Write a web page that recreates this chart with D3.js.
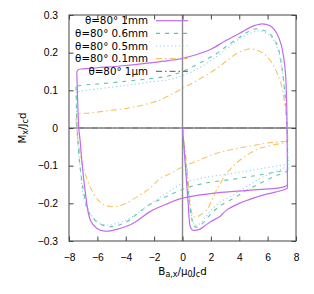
<!DOCTYPE html>
<html>
<head>
<meta charset="utf-8">
<script src="https://cdn.jsdelivr.net/npm/d3@7"></script>
<style>
  body { margin: 0; background: #fff; }
  svg { display: block; font-family: "DejaVu Sans", sans-serif; }
</style>
</head>
<body>
<svg id="chart"></svg>
<script>
var width = 314, height = 294;
var margin = { top: 15, right: 18, bottom: 53, left: 69 };
var innerWidth = width - margin.left - margin.right;
var innerHeight = height - margin.top - margin.bottom;

var xTicks = [-8, -6, -4, -2, 0, 2, 4, 6, 8];
var yTicks = [-0.3, -0.2, -0.1, 0, 0.1, 0.2, 0.3];
var labels = ["θ=80° 1mm", "θ=80° 0.6mm", "θ=80° 0.5mm", "θ=80° 0.1mm", "θ=80° 1μm"];

// [B, M] points: virgin curve, then the two branches of the loop
var mm1Virgin = [[0,0],[0.2,-0.1],[0.4,-0.2],[0.55,-0.262],[0.7,-0.271],[1.2,-0.269],[1.6,-0.259],[2.0,-0.248],[2.64,-0.235],[3.1,-0.218],[4.0,-0.2],[5.0,-0.186],[6.0,-0.175],[7.0,-0.166],[7.4,-0.16]];
var mm1Upper = [[7.4,-0.16],[7.38,-0.05],[7.34,0.07],[7.25,0.15],[7.1,0.195],[6.95,0.222],[6.65,0.251],[6.3,0.268],[5.9,0.275],[5.5,0.276],[5.0,0.271],[4.0,0.251],[3.0,0.231],[2.0,0.209],[1.0,0.195],[0,0.185],[-1,0.179],[-2.3,0.173],[-4,0.166],[-6,0.16],[-7,0.157],[-7.35,0.155],[-7.45,0.148]];
var mm1Lower = [[-7.45,0.148],[-7.38,0.06],[-7.3,-0.005],[-7.22,-0.032],[-7.1,-0.085],[-6.87,-0.165],[-6.5,-0.244],[-6.05,-0.266],[-5.46,-0.274],[-4.64,-0.269],[-3.47,-0.253],[-2.29,-0.222],[-1,-0.2],[0,-0.186],[2.41,-0.172],[4.76,-0.165],[7.1,-0.157],[7.4,-0.151]];

var mm06Virgin = [[0,0],[0.3,-0.12],[0.6,-0.23],[0.85,-0.262],[1.1,-0.262],[1.5,-0.25],[1.94,-0.231],[2.6,-0.208],[3.58,-0.187],[4.5,-0.166],[5.46,-0.147],[6.4,-0.13],[7.4,-0.115]];
var mm06Upper = [[7.42,-0.112],[7.38,-0.02],[7.3,0.05],[7.22,0.09],[7.0,0.163],[6.8,0.205],[6.5,0.234],[6.1,0.252],[5.8,0.258],[5.4,0.262],[5.1,0.263],[4.6,0.255],[4.05,0.242],[3.2,0.22],[2.41,0.198],[1.2,0.172],[0,0.15],[-1,0.138],[-2.3,0.131],[-4,0.124],[-6,0.117],[-7.2,0.113],[-7.5,0.11]];
var mm06Lower = [[-7.5,0.11],[-7.45,0.02],[-7.35,-0.05],[-7.2,-0.11],[-6.99,-0.165],[-6.64,-0.222],[-6.05,-0.249],[-5.5,-0.26],[-5.11,-0.262],[-4.5,-0.258],[-3.93,-0.249],[-3.2,-0.228],[-2.3,-0.203],[-1.2,-0.183],[0,-0.163],[1.5,-0.147],[3.58,-0.136],[5.5,-0.124],[7.42,-0.111]];

var mm05Virgin = [[0,0],[0.3,-0.12],[0.6,-0.225],[0.88,-0.258],[1.2,-0.255],[1.5,-0.243],[1.94,-0.222],[2.6,-0.198],[3.58,-0.178],[4.5,-0.156],[5.46,-0.134],[6.4,-0.118],[7.4,-0.102]];
var mm05Upper = [[7.44,-0.098],[7.4,-0.02],[7.3,0.05],[7.1,0.136],[6.9,0.18],[6.64,0.216],[6.3,0.24],[5.93,0.251],[5.5,0.257],[5.23,0.258],[4.7,0.25],[4.05,0.238],[3.2,0.213],[2.41,0.19],[1.2,0.16],[0,0.139],[-1,0.128],[-2.3,0.122],[-4,0.113],[-6,0.104],[-7.2,0.098],[-7.5,0.096]];
var mm05Lower = [[-7.5,0.096],[-7.45,0.02],[-7.35,-0.05],[-7.2,-0.11],[-7.0,-0.178],[-6.5,-0.227],[-6.0,-0.248],[-5.34,-0.258],[-4.7,-0.254],[-3.93,-0.244],[-3.0,-0.222],[-2.06,-0.196],[-1,-0.17],[0,-0.147],[1.5,-0.132],[3.58,-0.12],[5.5,-0.108],[7.44,-0.096]];

var mm01Virgin = [[0,0],[0.3,-0.1],[0.55,-0.2],[0.76,-0.235],[1.0,-0.236],[1.3,-0.23],[1.7,-0.218],[2.0,-0.198],[2.29,-0.173],[2.7,-0.145],[3.11,-0.12],[3.6,-0.1],[4.05,-0.085],[4.7,-0.068],[5.46,-0.054],[6.4,-0.045],[7.4,-0.038]];
var mm01Upper = [[7.42,-0.035],[7.4,-0.01],[7.34,0.021],[7.2,0.065],[7.0,0.11],[6.7,0.143],[6.4,0.167],[6.0,0.188],[5.7,0.198],[5.2,0.207],[4.76,0.21],[4.3,0.206],[3.82,0.198],[3.1,0.178],[2.41,0.158],[1.2,0.13],[0,0.105],[-1,0.085],[-1.59,0.074],[-2.29,0.066],[-3.5,0.055],[-5,0.047],[-6.5,0.04],[-7.41,0.035],[-7.5,0.02]];
var mm01Lower = [[-7.5,0.02],[-7.4,-0.02],[-7.22,-0.067],[-6.87,-0.12],[-6.29,-0.173],[-5.7,-0.2],[-4.99,-0.209],[-4.17,-0.203],[-3.0,-0.178],[-2.29,-0.16],[-1.59,-0.134],[-0.8,-0.12],[0,-0.103],[1.2,-0.085],[2.41,-0.067],[3.5,-0.057],[4.76,-0.048],[6,-0.04],[7.34,-0.035],[7.42,-0.035]];

var um1Virgin = [[0,0],[7.4,0]];
var um1Upper = [[7.4,0],[-7.4,0]];
var um1Lower = [[-7.4,0],[7.4,0]];

var series = [
  { name: labels[0], parts: [mm1Virgin, mm1Upper, mm1Lower], color: "#c26bee", dash: null, w: 1.2 },
  { name: labels[1], parts: [mm06Virgin, mm06Upper, mm06Lower], color: "#62c6a6", dash: "4,5", w: 1.1 },
  { name: labels[2], parts: [mm05Virgin, mm05Upper, mm05Lower], color: "#92d4ef", dash: "1.2,2.6", w: 1.1 },
  { name: labels[3], parts: [mm01Virgin, mm01Upper, mm01Lower], color: "#f5c466", dash: "6,3,1.5,3", w: 1.1 },
  { name: labels[4], parts: [um1Virgin, um1Upper, um1Lower], color: "#555555", dash: "6,3,1.5,3", w: 1 }
];

var svg = d3.select("#chart").attr("width", width).attr("height", height);
var g = svg.append("g").attr("transform", "translate(" + margin.left + "," + margin.top + ")");

var x = d3.scaleLinear().domain([-8, 8]).range([0, innerWidth]);
var y = d3.scaleLinear().domain([-0.3, 0.3]).range([innerHeight, 0]);

var line = d3.line()
  .x(d => x(d[0]))
  .y(d => y(d[1]))
  .curve(d3.curveCatmullRom.alpha(0.5));

// 1um curve sits on zero, draw it first
series.slice().reverse().forEach(function(s) {
  s.parts.forEach(function(p) {
    g.append("path")
      .attr("d", line(p))
      .attr("fill", "none")
      .attr("stroke", s.color)
      .attr("stroke-width", s.w)
      .attr("stroke-dasharray", s.dash);
  });
  if (s.name === labels[4]) {
    // zero axes
    g.append("line").attr("x1", 0).attr("x2", innerWidth)
      .attr("y1", y(0)).attr("y2", y(0))
      .attr("stroke", "#8c8c8c").attr("stroke-width", 1.4);
    g.append("line").attr("x1", x(0)).attr("x2", x(0))
      .attr("y1", 0).attr("y2", innerHeight)
      .attr("stroke", "#8c8c8c").attr("stroke-width", 1.4);
  }
});

// axes with inner ticks on all four sides
function styleAxis(sel) {
  sel.select(".domain").remove();
  sel.selectAll(".tick line").attr("stroke", "#444");
  sel.selectAll(".tick text").attr("fill", "#000").style("font-size", "10.3px");
}
function noLabels(sel) {
  sel.select(".domain").remove();
  sel.selectAll(".tick line").attr("stroke", "#444");
  sel.selectAll(".tick text").remove();
}

g.append("g").attr("transform", "translate(0," + innerHeight + ")")
  .call(d3.axisBottom(x).tickValues(xTicks).tickSize(-4.5).tickPadding(13).tickFormat(d3.format("d")))
  .call(styleAxis);
g.append("g")
  .call(d3.axisTop(x).tickValues(xTicks).tickSize(-4.5))
  .call(noLabels);
g.append("g")
  .call(d3.axisLeft(y).tickValues(yTicks).tickSize(-4.5).tickPadding(11).tickFormat(d => d === 0 ? "0" : d3.format(".1f")(d)))
  .call(styleAxis);
g.append("g").attr("transform", "translate(" + innerWidth + ",0)")
  .call(d3.axisRight(y).tickValues(yTicks).tickSize(-4.5))
  .call(noLabels);

g.append("rect")
  .attr("width", innerWidth).attr("height", innerHeight)
  .attr("fill", "none").attr("stroke", "#444").attr("stroke-width", 1);

// legend
var legend = g.append("g").attr("class", "legend");
series.forEach(function(s, i) {
  var ly = 5.7 + i * 12.65;
  legend.append("text")
    .attr("x", 148 - margin.left).attr("y", ly)
    .attr("dy", "0.35em")
    .attr("text-anchor", "end")
    .style("font-size", "10.3px")
    .text(s.name);
  legend.append("line")
    .attr("x1", 156 - margin.left).attr("x2", 188 - margin.left)
    .attr("y1", ly).attr("y2", ly)
    .attr("stroke", s.color)
    .attr("stroke-width", s.w)
    .attr("stroke-dasharray", s.dash);
});

// axis titles
var yt = svg.append("text")
  .attr("transform", "translate(26," + (margin.top + innerHeight / 2) + ") rotate(-90)")
  .attr("text-anchor", "middle")
  .style("font-size", "10.3px");
yt.append("tspan").text("M");
yt.append("tspan").attr("baseline-shift", "-25%").style("font-size", "8px").text("x");
yt.append("tspan").text("/J");
yt.append("tspan").attr("baseline-shift", "-25%").style("font-size", "8px").text("c");
yt.append("tspan").text("d");

var xt = svg.append("text")
  .attr("x", margin.left + innerWidth / 2).attr("y", 275)
  .attr("text-anchor", "middle")
  .style("font-size", "10.3px");
xt.append("tspan").text("B");
xt.append("tspan").attr("baseline-shift", "-25%").style("font-size", "8px").text("a,x");
xt.append("tspan").text("/μ");
xt.append("tspan").attr("baseline-shift", "-25%").style("font-size", "8px").text("0");
xt.append("tspan").text("J");
xt.append("tspan").attr("baseline-shift", "-25%").style("font-size", "8px").text("c");
xt.append("tspan").text("d");
</script>
</body>
</html>
